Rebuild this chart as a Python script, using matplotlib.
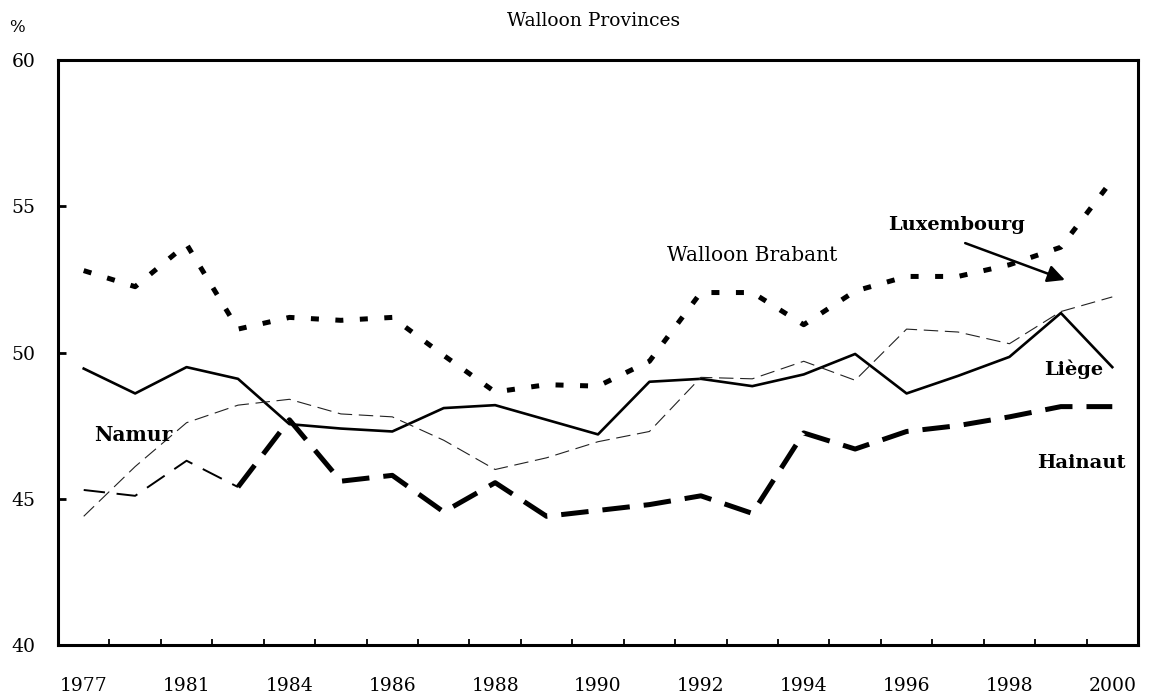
import matplotlib
matplotlib.use("Agg")
import matplotlib.pyplot as plt

# ---- data ----
years = ["1977", "1979", "1981", "1983", "1984", "1985", "1986", "1987", "1988",
         "1989", "1990", "1991", "1992", "1993", "1994", "1995", "1996", "1997",
         "1998", "1999", "2000"]
shown_labels = ["1977", "1981", "1984", "1986", "1988", "1990", "1992", "1994",
                "1996", "1998", "2000"]
brabant = [52.8, 52.25, 53.7, 50.8, 51.2, 51.1, 51.2, 49.9, 48.65, 48.9, 48.85,
           49.7, 52.05, 52.05, 50.95, 52.1, 52.6, 52.6, 53.0, 53.6, 55.9]
liege = [49.45, 48.6, 49.5, 49.1, 47.55, 47.4, 47.3, 48.1, 48.2, 47.7, 47.2,
         49.0, 49.1, 48.85, 49.25, 49.95, 48.6, 49.2, 49.85, 51.35, 49.5]
namur = [44.4, 46.1, 47.6, 48.2, 48.4, 47.9, 47.8, 47.0, 46.0, 46.4, 46.95,
         47.3, 49.15, 49.1, 49.7, 49.05, 50.8, 50.7, 50.3, 51.4, 51.9]
hainaut = [45.3, 45.1, 46.3, 45.4, 47.7, 45.6, 45.8, 44.55, 45.55, 44.4, 44.6,
           44.8, 45.1, 44.5, 47.25, 46.7, 47.3, 47.5, 47.8, 48.15, 48.15]
yticks = [40, 45, 50, 55, 60]

plt.rcParams['font.family'] = ['DejaVu Serif']

fig = plt.figure(figsize=(11.51, 6.94), dpi=100)
ax = fig.add_axes([58 / 1151, 1 - 645 / 694, 1080 / 1151, 585 / 694])

x = list(range(len(years)))
ax.plot(x, brabant, color='black', lw=3.6, linestyle=(0, (1.6, 3.3)),
        dash_capstyle='butt')
ax.plot(x, liege, color='black', lw=1.9, linestyle='-')
ax.plot(x, namur, color='#222222', lw=0.8, linestyle=(0, (13, 6)))
# Hainaut: the earliest segments are drawn thinner in the original
ax.plot(x[:4], hainaut[:4], color='black', lw=1.4, linestyle=(0, (11, 6)),
        dash_capstyle='butt')
ax.plot(x[3:], hainaut[3:], color='black', lw=3.6, linestyle=(0, (5.5, 2.8)),
        dash_capstyle='butt')

ax.set_xlim(-0.5, len(years) - 0.5)
ax.set_ylim(40, 60)

# category labels (every other one shown), boundary ticks inward
ax.set_xticks(x)
ax.set_xticklabels([y if y in shown_labels and i % 2 == 0 else "" for i, y in enumerate(years)])
ax.set_xticks([i + 0.5 for i in range(len(years) - 1)], minor=True)
ax.tick_params(axis='x', which='major', length=0, pad=23, labelsize=13.5)
ax.tick_params(axis='x', which='minor', direction='in', length=4.5, width=1.3)
ax.set_yticks(yticks)
ax.tick_params(axis='y', direction='in', length=5.5, width=2, pad=16, labelsize=13.5)

for s in ax.spines.values():
    s.set_linewidth(2.2)

fig.text(17 / 1151, 1 - 28 / 694, "%", fontsize=12, ha='center', va='center')
fig.text(594 / 1151, 1 - 21 / 694, "Walloon Provinces", fontsize=13.5,
         ha='center', va='center')

ax.text(0.96, 47.18, "Namur", fontsize=14.5, fontweight='bold', ha='center', va='center')
ax.text(13.0, 53.33, "Walloon Brabant", fontsize=14.5, ha='center', va='center')
ax.text(16.98, 54.36, "Luxembourg", fontsize=14, fontweight='bold', ha='center', va='center')
ax.text(19.24, 49.44, "Liège", fontsize=14, fontweight='bold', ha='center', va='center')
ax.text(19.39, 46.22, "Hainaut", fontsize=14, fontweight='bold', ha='center', va='center')
ax.annotate("", xy=(19.08, 52.48), xytext=(17.14, 53.74),
            arrowprops=dict(arrowstyle='-|>', color='black', lw=1.8,
                            mutation_scale=26, shrinkA=0, shrinkB=0))

fig.savefig("out.png", dpi=100)
